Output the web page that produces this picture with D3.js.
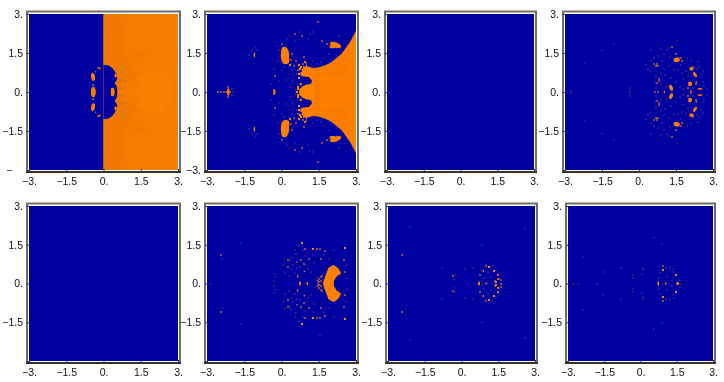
<!DOCTYPE html>
<html>
<head>
<meta charset="utf-8">
<script src="https://cdn.jsdelivr.net/npm/d3@7"></script>
<style>
  html, body { margin: 0; background: #fff; }
  text { font-family: "Liberation Sans", Arial, sans-serif; font-size: 10.5px; fill: #111; }
</style>
</head>
<body>
<svg id="chart" width="724" height="382"></svg>
<script>
const tickValues = [-3, -1.5, 0, 1.5, 3];
const xTickLabels = ['\u22123.', '\u22121.5', '0.', '1.5', '3.'];

// the plots are mirror images about y = 0, so only the upper half is listed
// regions: [x, y] outlines, blobs: [x, y, rx, ry, angle], specks: [x, y, level]
const halfPlane = [[0, 0], [0, 3], [3, 3], [3, 0]];
const a1Dark = [[0, .95], [0, 3], [.96, 3], [.9, 2.24], [.82, 1.34], [1.5, 1.52], [2.14, 1.66], [1.4, 1.28], [1, 1.08], [1.47, .63], [1.1, .45], [.7, .6], [.45, .9]];
const a1Light = [[1.47, .63], [2.27, .83], [2.45, .7], [2.61, .5], [2.7, .25], [2.74, 0], [1.2, 0], [1.74, .18]];
const a1Rays = [[.5, .9], [1.05, 1.02], [.72, .62], [1.1, .42], [.62, .3], [.9, .12], [.55, .08]];
const a1Hole = [[0, 0], [0, 1.04], [.12, 1.04], [.25, 1], [.37, .9], [.46, .78], [.54, .65], [.55, .5], [.47, .36], [.53, .22], [.55, .1], [.55, 0]];
const a1Blobs = [[-.41, 0, .09, .19, 0], [-.42, .58, .08, .15, 8], [-.42, .27, .03, .05, 0], [-.18, .92, .08, .03, -25], [-.32, .78, .025, .03, 0], [.37, 0, .1, .17, 0], [.49, .63, .05, .08, 0], [.49, .34, .03, .05, 0]];
const a1Rings = [[.37, 0, .11, .19, 0]];

const a2Region = [[3, 0], [3, 2.36], [2.76, 1.92], [2.42, 1.47], [2.02, 1.15], [1.62, .95], [1.28, .92], [1.05, .98], [1, 1.08], [.96, .96], [.88, 1.02], [.86, .9], [.8, .88], [.82, .78], [.74, .74], [.78, .64], [.85, .6], [1.1, .58], [1.22, .45], [1.2, .33], [1, .27], [.85, .22], [.8, .17], [.73, .13], [.7, 0]];
const a2Dark = [[1.35, .9], [2, 1.1], [2.45, 1.45], [2.62, .95], [2.4, .6], [1.9, .55], [1.55, .7]];
const a2Light = [[.72, 0], [1, .3], [1.25, .2], [1.35, 0]];
const a2Blobs = [[.14, 1.4, .17, .33, 0], [.11, 1.6, .12, .14, 0], [.2, 1.22, .12, .14, 0], [2.18, 1.81, .24, .1, -20], [2.05, 1.75, .12, .07, 0], [-2.14, 0, .04, .14, 0], [-2.14, 0, .12, .03, 0], [-1.09, 1.43, .03, .1, 0], [-.29, 0, .04, .12, 0]];
const a2Specks = [[0, 1.85, 1], [.21, 2.04, 0], [.54, 2.24, 1], [.81, 2.17, 1], [1.28, 2.3, 0], [1.48, 2.69, 1], [1.64, 1.98, 1], [1.82, 1.85, 1], [1.28, 1.21, 0], [1.42, 1.08, 0], [.95, 1.17, 2], [.85, 1.08, 1], [.75, .89, 2], [.28, 1.15, 2], [.41, .83, 0], [-.26, .63, 1], [0, .83, 0], [-.42, .3, 0], [.48, .38, 0], [.34, .19, 0], [.54, .06, 0], [-1.2, 1.6, 0], [-.97, 1.6, 0], [-2, .12, 0], [-2.14, .2, 1], [-2.3, 0, 1], [-2.42, 0, 1], [-2.54, 0, 1], [-1.95, 0, 0], [.33, 1.05, 2], [.38, 1.25, 1], [.42, 1.45, 1], [.7, .55, 2], [.66, .85, 1], [.7, 1.02, 2], [.92, 1.33, 1], [.55, 1.95, 0], [1.05, 2.05, 0], [-.1, 1.6, 0], [-.16, 1.18, 0], [-.3, .88, 0], [-.12, .42, 0], [.2, .45, 0], [.62, .68, 0], [1.6, 1.15, 0], [1.9, 1.45, 0], [2.3, 2.15, 0], [-1.05, 1.75, 0], [-1.3, 1.42, 0], [.72, .68, 2], [.78, .96, 2], [.68, .2, 2], [.66, .1, 2], [.64, 0, 2], [.78, .3, 2], [.98, 1.12, 1], [.35, 2.15, 0], [.7, 2.3, 0], [1.15, 2.25, 0], [1.7, 1.3, 0], [.1, .95, 0], [.5, 1, 1], [.58, 1.2, 1]];

const a3Specks = [[1.07, 0, 3], [1.45, .4, 3], [2.09, .55, 3]];

const a4Blobs = [[1.53, 1.24, .13, .09, 10], [2.13, .89, .09, .07, 0], [2.27, .67, .06, .11, 35], [2.07, .31, .08, .09, 0], [1.3, .16, .07, .12, 20], [2.47, .12, .11, .03, 0], [1.03, 0, .025, .045, 0], [2.32, .37, .03, .05, 0]];
const a4Specks = [[.3, 1.05, 0], [.35, .9, 0], [.45, .8, 0], [.5, 1.2, 0], [.6, 1.3, 0], [.75, 1.4, 0], [1, 1.45, 0], [1.2, 1.7, 0], [1.35, 1.75, 1], [1.5, 1.45, 1], [1.75, 1.2, 1], [1.7, 1.05, 0], [1.95, 1.3, 0], [2.1, 1.2, 0], [2.4, 1.15, 0], [2.45, .95, 0], [2.5, .7, 0], [2.35, .9, 0], [2.6, .4, 0], [2.75, .1, 0], [2.65, .25, 0], [2.3, .3, 1], [2, .6, 0], [1.9, .8, 0], [1.8, .5, 0], [1.6, .85, 0], [1.4, .9, 0], [1.2, 1, 0], [1, .9, 0], [1.05, .65, 0], [.9, .7, 0], [.7, .6, 0], [.65, .4, 0], [.8, .42, 1], [.62, 1.06, 1], [.68, 1, 1], [.74, 1.06, 1], [.78, 1, 1], [.9, .3, 0], [.7, .15, 0], [.65, 0, 1], [.75, 0, 1], [1.15, .25, 0], [1.5, .4, 0], [1.65, .2, 0], [1.8, .1, 0], [2.1, .05, 1], [2.2, .15, 0], [2, .15, 1], [-.38, .05, 0], [-.38, .15, 0], [-2.75, .05, 0], [-1.5, 1.62, 0], [-1, 1.85, 0], [-2.2, 1.1, 0], [.5, 1.6, 0], [.9, 1.65, 0], [1.55, 1.95, 0], [1.15, 1.6, 0], [.82, .5, 1], [.72, .36, 1], [.68, .52, 0], [.95, 1.2, 0], [1.25, 1.35, 0], [1.75, .75, 0], [1.3, .55, 0], [2.6, .8, 0], [2.2, .95, 1], [1.72, 1.32, 1]];

const b2Outline = [[1.64, 0], [2.11, 0], [2.11, .1], [2.22, .27], [2.4, .39], [2.31, .56], [2.2, .66], [2.09, .72], [1.89, .61], [1.78, .33], [1.68, .07]];
const b2Blobs = [[.745, 0, .03, .08, 0], [1.04, 0, .03, .05, 0], [.65, .27, .03, .05, 0], [.62, .82, .03, .03, 0], [.92, .47, .03, .03, 0], [.34, .88, .02, .02, 0], [.58, 1.14, .02, .03, 0]];
const b2Specks = [[1.45, 0, 1], [1.45, .1, 1], [1.52, .05, 1], [1.52, .18, 1], [1.58, .1, 1], [1.58, .25, 1], [1.45, .25, 0], [1.38, .12, 0], [1.65, .3, 1], [1.28, 1.32, 2], [.81, 1.55, 2], [1.42, 1.32, 1], [1.55, 1.35, 1], [1.7, 1.1, 0], [1.3, .8, 0], [1.1, .95, 1], [.95, 1.05, 0], [.85, 1.3, 0], [.72, 1.45, 0], [.55, 1.3, 0], [.4, 1, 0], [.15, .95, 0], [.05, .7, 0], [.25, .65, 1], [.4, .55, 0], [.15, .4, 0], [-.25, .25, 0], [-.32, .1, 0], [-.3, .35, 0], [.75, .62, 0], [.9, .75, 1], [1.05, .55, 0], [.55, .4, 0], [2.5, .9, 1], [2.6, .7, 0], [2.55, .45, 1], [2.65, .2, 0], [2.56, 1.36, 2], [1.6, .95, 1], [1.9, .95, 0], [2.1, 1.3, 0], [-2.44, 1.1, 1], [-2.88, 0, 0], [-1.62, 1.55, 0], [-2.4, .95, 0], [1.55, 2, 0], [.25, .9, 1], [.45, .72, 0], [.8, .9, 1], [1, .72, 0], [.62, .6, 0], [.3, .3, 0], [1.2, .45, 0], [1.25, 1.1, 0], [1.75, 1.25, 1], [.95, 1.35, 1]];

const b3Blobs = [[.714, 0, .035, .08, 0], [1.01, 0, .04, .03, 0], [1.5, .17, .05, .04, 0]];
const b3Specks = [[.89, .5, 2], [1.12, .63, 2], [1.34, .48, 2], [1.48, .32, 2], [1.63, 0, 1], [.75, .34, 1], [.82, .5, 0], [.92, .2, 0], [1.01, .68, 1], [1.26, .66, 0], [1.42, .52, 0], [1.55, .3, 0], [1.6, .15, 1], [1.2, .25, 0], [1.35, .1, 1], [1.42, .05, 2], [1.1, .4, 0], [.85, .05, 0], [-2.42, 1.1, 1], [-2.1, 2.17, 0], [-.33, .28, 1], [-.28, .32, 0], [-.3, .18, 0], [.45, .6, 0], [.15, .55, 0], [-.8, .6, 0], [2.6, 2.1, 0], [.85, 1.5, 0]];

const b4Blobs = [[.738, 0, .03, .09, 0], [1.04, 0, .03, .04, 0], [1.54, 0, .06, .05, 0]];
const b4Specks = [[.917, .54, 2], [1.47, .335, 2], [.917, .66, 1], [1.22, .63, 0], [.8, .4, 0], [.78, .2, 0], [1.05, .6, 0], [1.4, .55, 0], [1.62, .15, 0], [1.68, 0, 0], [1.1, .25, 0], [1.3, .1, 0], [1.35, .45, 0], [-.3, .31, 0], [-.32, .2, 0], [.09, .54, 0], [.1, .6, 0], [.88, 1.53, 0], [.55, 1.75, 0], [-2.37, 1.02, 0], [-2.57, 0, 0], [-2.75, 0, 0], [-1.81, 0, 0], [-.82, .6, 0], [-1.55, .45, 0], [.05, .35, 0]];

const fills = {blue: '#0000a0', orange: '#fd7f00', orange1: '#f67c00', dark: '#f07900', light: '#f88000', rays: '#e97800', a2Dark: '#f67b00', a2Light: '#ff8706'};
const speckColors = ['#2f1290', '#8a4a55', '#f88010', '#0d05a4'];

// pixel boxes of the eight plots, and the label under the bottom left corner
const panels = [
  {l: 29, r: 178, t: 14, b: 170, end: '\u2212\u2003', regions: [[halfPlane, 'orange1'], [a1Dark, 'dark'], [a1Light, 'light'], [a1Rays, 'rays'], [a1Hole, 'blue']], blobs: a1Blobs, rings: a1Rings, blobFill: 'orange1'},
  {l: 207, r: 356, t: 14, b: 170, end: '\u22123.', regions: [[a2Region, 'orange'], [a2Dark, 'a2Dark'], [a2Light, 'a2Light']], blobs: a2Blobs, specks: a2Specks},
  {l: 387, r: 534, t: 14, b: 170, specks: a3Specks},
  {l: 565, r: 713, t: 14, b: 170, blobs: a4Blobs, specks: a4Specks},
  {l: 29, r: 178, t: 206, b: 361},
  {l: 207, r: 356, t: 206, b: 361, regions: [[b2Outline, 'orange']], blobs: b2Blobs, specks: b2Specks},
  {l: 388, r: 535, t: 206, b: 361, blobs: b3Blobs, specks: b3Specks},
  {l: 568, r: 713, t: 206, b: 361, blobs: b4Blobs, specks: b4Specks}
];

const svg = d3.select('#chart');
const defs = svg.append('defs');
defs.append('filter').attr('id', 'soft').append('feGaussianBlur').attr('stdDeviation', 0.45);
defs.append('filter').attr('id', 'softText').append('feGaussianBlur').attr('stdDeviation', 0.25);

const both = (rows, flip) => rows.concat(rows.map(flip));

panels.forEach((p, i) => {
  const x = d3.scaleLinear().domain([-3, 3]).range([p.l, p.r]);
  const y = d3.scaleLinear().domain([-3, 3]).range([p.b, p.t]);
  const g = svg.append('g');

  defs.append('clipPath').attr('id', 'clip' + i)
    .append('rect').attr('x', p.l).attr('y', p.t).attr('width', p.r - p.l).attr('height', p.b - p.t);

  g.append('rect').attr('x', p.l).attr('y', p.t).attr('width', p.r - p.l).attr('height', p.b - p.t)
    .attr('fill', fills.blue);

  const marks = g.append('g').attr('clip-path', `url(#clip${i})`).append('g').attr('filter', 'url(#soft)');
  const outline = d3.line().x((d) => x(d[0])).y((d) => y(d[1]));

  (p.regions || []).forEach(([pts, fill]) => {
    // walk down the upper half and back up the lower half
    const whole = pts.concat(pts.slice().reverse().map((d) => [d[0], -d[1]]));
    marks.append('path').attr('d', outline(whole) + 'Z').attr('fill', fills[fill]);
  });

  const drawEllipses = (rows) => marks.append('g').selectAll('ellipse')
    .data(both(rows, (d) => [d[0], -d[1], d[2], d[3], -d[4]]))
    .join('ellipse')
    .attr('rx', (d) => x(d[2]) - x(0))
    .attr('ry', (d) => y(0) - y(d[3]))
    .attr('transform', (d) => `translate(${x(d[0])},${y(d[1])}) rotate(${-d[4]})`);

  if (p.blobs) drawEllipses(p.blobs).attr('fill', fills[p.blobFill || 'orange']);
  if (p.rings) drawEllipses(p.rings).attr('fill', 'none').attr('stroke', fills.blue).attr('stroke-width', 1);

  if (p.specks) {
    marks.append('g').selectAll('rect')
      .data(both(p.specks, (d) => [d[0], -d[1], d[2]]))
      .join('rect')
      .attr('x', (d) => Math.round(x(d[0])) - 1)
      .attr('y', (d) => Math.round(y(d[1])) - 1)
      .attr('width', 2)
      .attr('height', 2)
      .attr('fill', (d) => speckColors[d[2]]);
  }

  // frame
  g.append('path')
    .attr('d', `M${p.l - 2},${p.b + 2}V${p.t - 2.5}H${p.r + 2}V${p.b + 2}`)
    .attr('fill', 'none').attr('stroke', '#6e6e6e').attr('stroke-width', 2);

  const xAxis = g.append('g')
    .attr('transform', `translate(0,${p.b + 2})`)
    .call(d3.axisBottom(x).tickValues(tickValues)
      .tickFormat((d, k) => xTickLabels[k]).tickSizeInner(-3).tickSizeOuter(0).tickPadding(6));
  xAxis.select('.domain').attr('stroke', '#333').attr('stroke-width', 2)
    .attr('d', `M${p.l - 3},0H${p.r + 3}`);
  xAxis.selectAll('.tick line').attr('stroke', '#333');

  const yLabels = [p.end || '', '\u22121.5', '0.', '1.5', '3.'];
  const yAxis = g.append('g')
    .attr('transform', `translate(${p.l - 2},0)`)
    .call(d3.axisLeft(y).tickValues(tickValues)
      .tickFormat((d, k) => yLabels[k]).tickSizeInner(-3).tickSizeOuter(0).tickPadding(4));
  yAxis.select('.domain').remove();
  yAxis.selectAll('.tick line').attr('stroke', '#333');

  g.selectAll('.tick text')
    .style('font-family', '"Liberation Sans", Arial, sans-serif').style('font-size', '10.5px')
    .attr('fill', '#111').attr('filter', 'url(#softText)');
});
</script>
</body>
</html>
